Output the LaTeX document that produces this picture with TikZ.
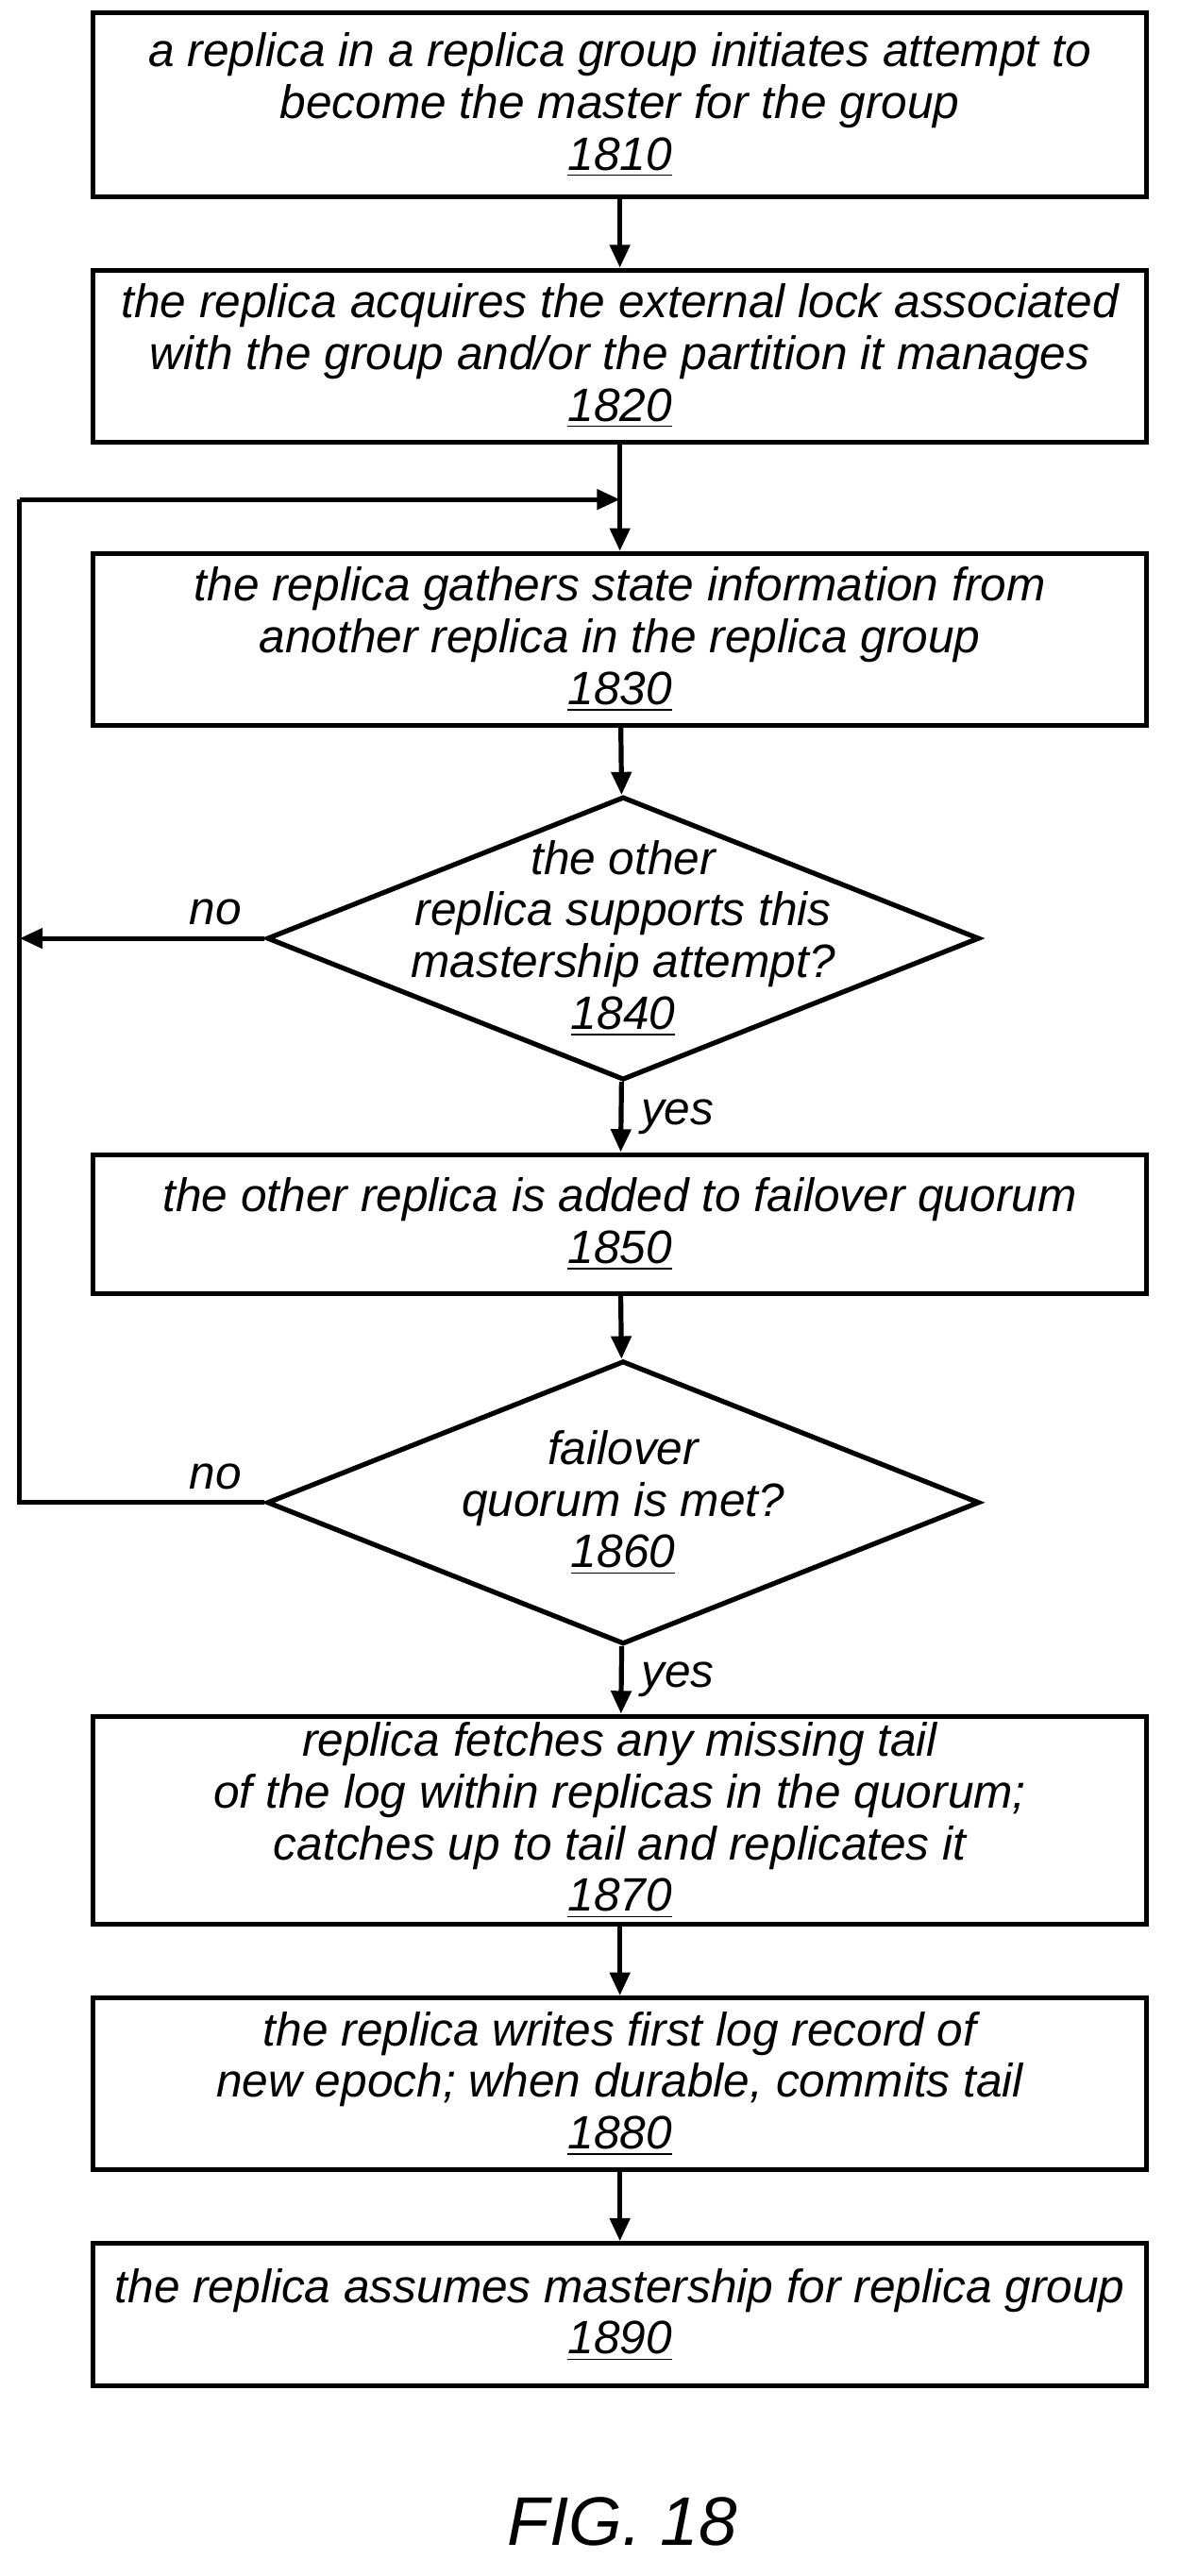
\documentclass[tikz,border=0pt]{standalone}
\usepackage{fontspec}
\setmainfont{Liberation Sans}
\usetikzlibrary{positioning, shapes.geometric, arrows.meta}

\tikzset{
  stage/.style={draw, line width=1.5pt, minimum width=321.5pt, align=center, inner sep=0pt,
    font=\itshape\fontsize{14.3}{15.8}\selectfont},
  check/.style={draw, diamond, line width=1.5pt, minimum width=217.5pt, minimum height=86.5pt,
    inner sep=0pt},
  query/.style={align=center, font=\itshape\fontsize{14.3}{15.8}\selectfont},
  flow/.style={line width=1.5pt, -{Triangle[length=7pt,width=6pt]}},
  tag/.style={font=\itshape\fontsize{14.3}{15.8}\selectfont}
}

\begin{document}
\begin{tikzpicture}[x=0.5pt, y=-0.5pt]
\useasboundingbox (0,0) rectangle (720,1573);
% stages
\node[stage, minimum height=56pt] (s1810) at (378.5,64) {a replica in a replica group initiates attempt to\\become the master for the group\\\underline{1810}};
\node[stage, minimum height=52.5pt] (s1820) at (378.5,217.5) {the replica acquires the external lock associated\\with the group and/or the partition it manages\\\underline{1820}};
\node[stage, minimum height=52.5pt] (s1830) at (378.5,390.5) {the replica gathers state information from\\another replica in the replica group\\\underline{1830}};
\node[check] (d1840) at (380.5,573) {};
\node[query] at (d1840) {the other\\replica supports this\\mastership attempt?\\\underline{1840}};
\node[stage, minimum height=42.5pt] (s1850) at (378.5,747.5) {the other replica is added to failover quorum\\\underline{1850}};
\node[check] (d1860) at (380.5,917.5) {};
\node[query] at (d1860) {failover\\quorum is met?\\\underline{1860}};
\node[stage, minimum height=63.5pt] (s1870) at (378.5,1111.5) {replica fetches any missing tail\\of the log within replicas in the quorum;\\catches up to tail and replicates it\\\underline{1870}};
\node[stage, minimum height=52.5pt] (s1880) at (378.5,1272.5) {the replica writes first log record of\\new epoch; when durable, commits tail\\\underline{1880}};
\node[stage, minimum height=43.5pt] (s1890) at (378.5,1413.5) {the replica assumes mastership for replica group\\\underline{1890}};
% loop points
\coordinate (join) at (378.5,305);
\coordinate (loopTop) at (12,305);
\coordinate (loopMid) at (12,573);
\coordinate (loopBot) at (12,917.5);
% connectors
\draw[flow] (s1810) -- (s1820);
\draw[flow] (s1820) -- (s1830);
\draw[flow] (s1830) -- (d1840);
\draw[flow] (d1840) -- node[tag, right=2pt]{yes} (s1850);
\draw[flow] (s1850) -- (d1860);
\draw[flow] (d1860) -- node[tag, right=2pt]{yes} (s1870);
\draw[flow] (s1870) -- (s1880);
\draw[flow] (s1880) -- (s1890);
\draw[flow] (d1840.west) -- node[tag, above, pos=0.2]{no} (loopMid);
\draw[line width=1.5pt] (d1860.west) -- node[tag, above, pos=0.2]{no} (loopBot) -- (loopTop);
\draw[flow] (loopTop) -- (join);
\node[font=\itshape\fontsize{21}{24}\selectfont] (fig) at (380,1540) {FIG. 18};
\end{tikzpicture}
\end{document}
